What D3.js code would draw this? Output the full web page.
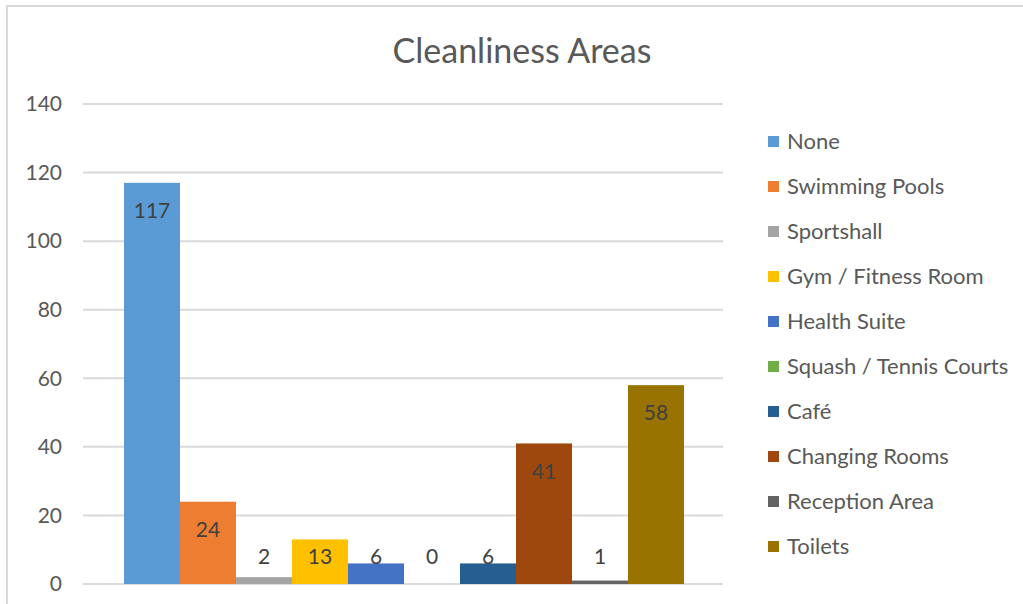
<!DOCTYPE html>
<html>
<head>
<meta charset="utf-8">
<script src="https://cdn.jsdelivr.net/npm/d3@7"></script>
<style>
  html, body { margin: 0; padding: 0; background: #fff; }
  svg { display: block; }
  text { font-family: Lato, "Open Sans", sans-serif; }
</style>
</head>
<body>
<svg id="chart" width="1023" height="604"></svg>
<script>
// Survey responses: which areas need better cleaning
const categories = ["None", "Swimming Pools", "Sportshall", "Gym / Fitness Room", "Health Suite",
  "Squash / Tennis Courts", "Café", "Changing Rooms", "Reception Area", "Toilets"];
const counts = [117, 24, 2, 13, 6, 0, 6, 41, 1, 58];
const colors = ["#5B9BD5", "#ED7D31", "#A5A5A5", "#FFC000", "#4472C4",
  "#70AD47", "#255E91", "#9E480E", "#636363", "#997300"];
const yTicks = [0, 20, 40, 60, 80, 100, 120, 140];
const title = "Cleanliness Areas";

const svg = d3.select("#chart");
const W = 1023, H = 604;

// chart frame
svg.append("path")
  .attr("d", `M7,${H} L7,6 L${W},6`)
  .attr("fill", "none")
  .attr("stroke", "#d9d9d9")
  .attr("stroke-width", 2);

svg.append("text")
  .attr("x", 522).attr("y", 63)
  .attr("text-anchor", "middle")
  .attr("font-size", 34)
  .attr("fill", "#595959")
  .text(title);

const plot = { left: 83, right: 723, top: 104, bottom: 584 };

const y = d3.scaleLinear().domain([0, 140]).range([plot.bottom, plot.top]);
const x = d3.scaleBand().domain(categories)
  .range([plot.left + 41, plot.right - 39])
  .paddingInner(0).paddingOuter(0);

// gridlines
svg.append("g")
  .selectAll("line")
  .data(yTicks)
  .join("line")
  .attr("x1", plot.left).attr("x2", plot.right)
  .attr("y1", d => y(d)).attr("y2", d => y(d))
  .attr("stroke", "#d9d9d9")
  .attr("stroke-width", 2);

// y axis labels
const yAxis = d3.axisLeft(y).tickValues(yTicks).tickSize(0).tickPadding(0);
const ay = svg.append("g").attr("transform", `translate(62,0)`).call(yAxis);
ay.select(".domain").remove();
ay.selectAll("text")
  .attr("font-family", "Lato, 'Open Sans', sans-serif")
  .attr("font-size", 21)
  .attr("fill", "#595959");

// bars
svg.append("g")
  .selectAll("rect")
  .data(categories)
  .join("rect")
  .attr("x", d => x(d))
  .attr("width", x.bandwidth())
  .attr("y", (d, i) => y(counts[i]))
  .attr("height", (d, i) => y(0) - y(counts[i]))
  .attr("fill", (d, i) => colors[i]);

// value labels, placed just inside the top of each bar
svg.append("g")
  .selectAll("text")
  .data(categories)
  .join("text")
  .attr("x", d => x(d) + x.bandwidth() / 2)
  .attr("y", (d, i) => Math.min(y(counts[i]) + 28, y(0) - 27))
  .attr("dy", "0.35em")
  .attr("text-anchor", "middle")
  .attr("font-size", 21)
  .attr("fill", "#404040")
  .text((d, i) => counts[i]);

// legend
const legend = svg.append("g")
  .selectAll("g")
  .data(categories)
  .join("g")
  .attr("transform", (d, i) => `translate(768,${141.5 + i * 45})`);
legend.append("rect")
  .attr("x", 0).attr("y", -5.5)
  .attr("width", 11).attr("height", 11)
  .attr("fill", (d, i) => colors[i]);
legend.append("text")
  .attr("x", 19).attr("dy", "0.35em")
  .attr("font-size", 22)
  .attr("fill", "#595959")
  .text(d => d);
</script>
</body>
</html>
